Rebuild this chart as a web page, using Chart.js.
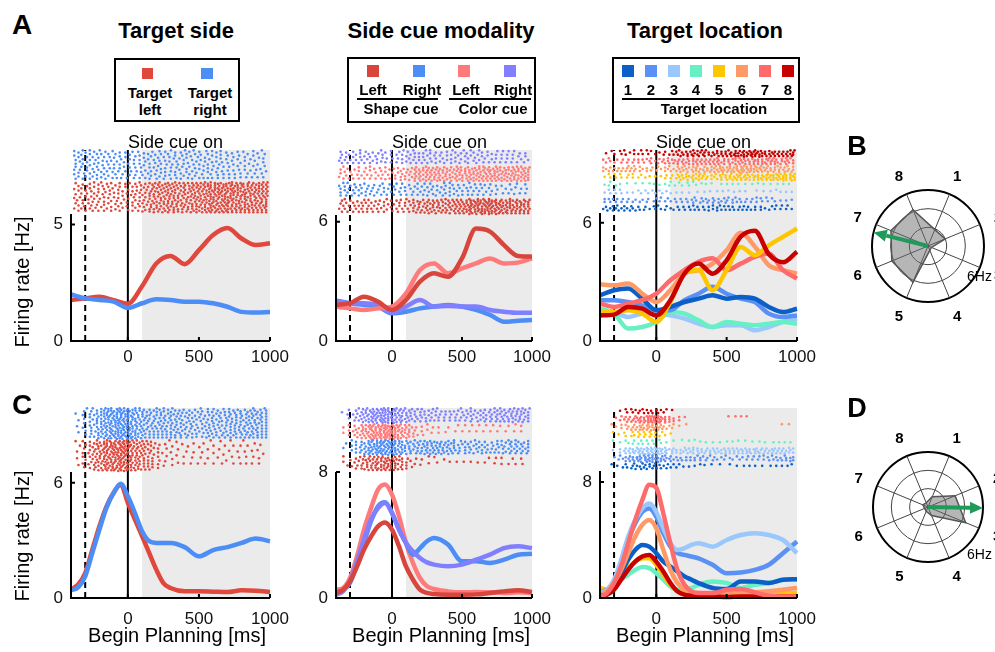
<!DOCTYPE html>
<html>
<head>
<meta charset="utf-8">
<script src="https://cdn.jsdelivr.net/npm/chart.js@4.4.1/dist/chart.umd.min.js"></script>
<style>
  body { margin: 0; width: 995px; height: 652px; overflow: hidden; position: relative; background: #fff;
         font-family: "Liberation Sans", Arial, sans-serif; color: #000; }
  canvas { position: absolute; }
  .t { position: absolute; transform: translate(-50%, -50%); line-height: 1; white-space: nowrap; }
  .tl { position: absolute; transform: translate(0, -50%); line-height: 1; white-space: nowrap; }
  .tv { position: absolute; transform: translate(-50%, -50%) rotate(-90deg); line-height: 1; white-space: nowrap; }
  .box { position: absolute; box-sizing: border-box; border: 2px solid #000; }
  .sq { position: absolute; width: 12px; height: 12px; }
  .rule { position: absolute; height: 2px; background: #000; }
</style>
</head>
<body>
<script>
const FONT = '"Liberation Sans", Arial, sans-serif';

// time grids (ms)
const timesA = [-400, -300, -200, -100, 0, 100, 200, 300, 400, 500, 600, 700, 800, 900, 1000];
const timesC = [-400, -350, -300, -250, -200, -150, -100, -50, 0, 50, 100, 150, 200, 250, 300,
                400, 500, 600, 700, 800, 900, 1000];
const xTicks = [0, 500, 1000];
const fixTime = -300, cueTime = 0, shadeStart = 100;

// row A: side cue on (Hz)
const leftA  = [1.76, 1.83, 1.9, 1.75, 1.6, 2.35, 3.33, 3.65, 3.3, 3.9, 4.55, 4.85, 4.4, 4.12, 4.2];
const rightA = [2.0, 1.83, 1.76, 1.69, 1.42, 1.62, 1.79, 1.76, 1.69, 1.69, 1.62, 1.47, 1.25, 1.22, 1.25];

const shapeLeftA  = [1.81, 1.9, 2.23, 1.98, 1.56, 2.06, 2.98, 3.4, 3.23, 4.15, 5.65, 5.5, 4.82, 4.27, 4.24];
const shapeRightA = [2.03, 1.9, 1.81, 1.73, 1.39, 1.47, 1.64, 1.73, 1.81, 1.73, 1.56, 1.31, 0.97, 1.02, 1.06];
const colorLeftA  = [1.73, 1.64, 1.56, 1.64, 1.73, 2.39, 3.57, 3.9, 3.4, 3.65, 3.9, 4.15, 3.9, 3.94, 4.15];
const colorRightA = [1.98, 1.9, 1.9, 1.81, 1.42, 1.73, 2.06, 1.73, 1.76, 1.73, 1.73, 1.56, 1.47, 1.42, 1.42];

const loc1A = [2.32, 2.58, 2.66, 2.15, 1.56, 1.73, 1.98, 2.15, 2.32, 2.15, 2.24, 2.15, 1.73, 1.47, 1.64];
const loc2A = [2.07, 2.07, 1.98, 1.81, 1.56, 1.56, 2.07, 2.4, 2.75, 2.4, 2.15, 1.98, 1.39, 1.22, 1.3];
const loc3A = [1.56, 1.47, 1.22, 1.39, 1.39, 1.3, 1.14, 0.88, 0.71, 0.8, 0.8, 0.54, 0.71, 0.97, 1.14];
const loc4A = [1.64, 1.39, 0.63, 0.71, 0.97, 1.47, 1.39, 1.05, 0.71, 0.97, 0.88, 0.8, 0.88, 0.97, 0.88];
const loc5A = [1.47, 1.47, 1.56, 1.39, 0.97, 1.98, 3.42, 3.6, 2.58, 3.6, 4.78, 4.36, 4.86, 5.29, 5.71];
const loc6A = [2.88, 2.83, 2.92, 2.41, 1.98, 2.58, 3.42, 3.6, 3.93, 4.61, 5.5, 4.8, 3.85, 3.6, 3.42];
const loc7A = [1.9, 1.73, 1.9, 2.07, 2.41, 3.08, 3.6, 4.02, 4.2, 3.6, 3.93, 4.27, 4.44, 3.6, 3.17];
const loc8A = [1.3, 1.34, 1.73, 1.64, 1.3, 2.07, 3.42, 3.93, 3.42, 4.1, 5.3, 5.6, 4.4, 4.0, 4.53];

// row C: begin planning (Hz)
const leftC  = [0.43, 0.7, 1.3, 2.52, 3.74, 4.78, 5.48, 5.91, 4.96, 4.09, 3.22, 2.35, 1.48, 0.78, 0.52,
                0.35, 0.35, 0.33, 0.31, 0.4, 0.38, 0.31];
const rightC = [0.4, 0.55, 1.13, 2.35, 3.57, 4.7, 5.48, 5.95, 5.3, 4.43, 3.48, 2.96, 2.87, 2.87, 2.87,
                2.65, 2.17, 2.5, 2.65, 2.87, 3.1, 2.96];

const shapeLeftC  = [0.32, 0.53, 1.06, 2.0, 3.07, 3.9, 4.55, 4.8, 4.34, 3.28, 2.0, 1.16, 0.53, 0.32, 0.25,
                     0.21, 0.21, 0.23, 0.32, 0.42, 0.49, 0.38];
const shapeRightC = [0.32, 0.5, 0.95, 2.12, 3.49, 4.87, 5.82, 6.07, 5.4, 4.34, 3.49, 2.75, 3.17, 3.6, 3.81,
                     3.39, 2.33, 2.33, 2.22, 2.43, 2.75, 2.81];
const colorLeftC  = [0.53, 0.63, 1.27, 2.65, 4.34, 5.71, 6.88, 7.2, 6.56, 5.19, 3.49, 2.22, 1.27, 0.74, 0.57,
                     0.42, 0.36, 0.38, 0.36, 0.32, 0.36, 0.32];
const colorRightC = [0.21, 0.42, 1.06, 2.33, 3.7, 4.97, 5.71, 6.03, 5.4, 4.34, 3.49, 2.96, 2.54, 2.26, 2.12,
                     2.01, 2.12, 2.43, 2.75, 3.17, 3.28, 3.17];

const loc1C = [0.34, 0.57, 0.91, 1.71, 2.63, 3.31, 3.66, 3.54, 3.09, 2.51, 2.17, 1.83, 1.49, 1.26, 1.03,
               0.69, 0.62, 1.14, 1.14, 1.03, 1.26, 1.3];
const loc2C = [0.23, 0.46, 1.14, 2.4, 4.0, 5.14, 5.94, 6.17, 5.6, 4.46, 3.54, 3.09, 2.97, 2.86, 2.74,
               2.29, 1.71, 1.76, 1.94, 2.29, 3.09, 3.89];
const loc3C = [0.34, 0.57, 1.26, 2.63, 4.23, 5.37, 6.17, 6.51, 5.94, 4.8, 3.77, 3.31, 3.43, 3.66, 3.77,
               3.54, 4.0, 4.34, 4.46, 4.34, 4.0, 3.09];
const loc4C = [0.57, 0.53, 0.69, 1.26, 1.6, 1.94, 2.13, 2.06, 1.71, 1.26, 0.8, 0.57, 0.57, 0.69, 0.91,
               1.14, 1.03, 0.69, 0.91, 1.03, 1.26, 1.3];
const loc5C = [0.69, 0.57, 0.69, 1.37, 2.06, 2.51, 2.74, 2.74, 2.29, 1.6, 0.91, 0.46, 0.27, 0.23, 0.23,
               0.23, 0.23, 0.25, 0.27, 0.3, 0.32, 0.34];
const loc6C = [0.23, 0.46, 1.03, 1.94, 3.09, 4.23, 5.03, 5.37, 4.8, 3.31, 1.94, 1.03, 0.57, 0.39, 0.34,
               0.3, 0.34, 0.34, 0.39, 0.46, 0.57, 0.69];
const loc7C = [0.11, 0.34, 1.03, 2.17, 3.77, 5.37, 6.74, 7.8, 7.6, 5.83, 3.77, 1.94, 0.91, 0.46, 0.34,
               0.34, 0.57, 0.62, 0.39, 0.16, 0.11, 0.11];
const loc8C = [0.16, 0.23, 0.57, 1.26, 1.94, 2.51, 2.86, 2.97, 2.51, 1.83, 1.03, 0.46, 0.23, 0.16, 0.11,
               0.11, 0.07, 0.11, 0.11, 0.11, 0.11, 0.11];

// polar tuning (Hz per target location) and preferred-direction vectors [deg, Hz]
const dirLabels = ['1', '2', '3', '4', '5', '6', '7', '8'];
const tuningB = [1.9, 2.0, 0.4, 0.5, 4.2, 4.2, 4.3, 4.2];
const tuningD = [1.2, 3.2, 4.45, 1.0, 0.5, 0.4, 0.6, 0.5];
const vecB = [284, 6];
const vecD = [91, 6];

// colours
const cRed = '#e0483e', cBlue = '#4d8df6';
const cShapeL = '#d8453c', cShapeR = '#4d8df6', cColorL = '#ff7b7b', cColorR = '#8080ff';
const locColors = ['#0b5fc6', '#5b91f5', '#9ac8fd', '#66f0c4', '#ffc600', '#ff9a66', '#ff6a6a', '#c80000'];

// raster: spike density follows the firing rate of each condition
const spikeGain = 0.024, spikeFloor = 0.016;

function nearestIdx(times, t) {
  let b = 0;
  for (let i = 1; i < times.length; i++) if (Math.abs(times[i] - t) < Math.abs(times[b] - t)) b = i;
  return b;
}

// error-diffusion halftone of the rate, one row per trial line
function rasterDots(times, rates, lo, hi, rows) {
  const cols = 140, cw = 10;
  const grid = [];
  for (let r = 0; r < rows; r++) {
    const row = [];
    for (let c = 0; c < cols; c++) {
      const rate = rates[nearestIdx(times, -400 + (c + 0.5) * cw)];
      row.push(Math.min(0.3, spikeFloor + rate * spikeGain));
    }
    grid.push(row);
  }
  const pts = [], rh = (hi - lo) / rows;
  for (let r = 0; r < rows; r++) {
    const dir = r % 2 ? -1 : 1;
    for (let k = 0; k < cols; k++) {
      const c = dir > 0 ? k : cols - 1 - k;
      const v = grid[r][c];
      const on = v >= 0.5 ? 1 : 0;
      const e = v - on;
      if (on) pts.push({ x: -400 + (c + 0.75 + e) * cw, y: lo + (r + 0.5) * rh });
      if (c + dir >= 0 && c + dir < cols) grid[r][c + dir] += e * 7 / 16;
      if (r + 1 < rows) {
        if (c - dir >= 0 && c - dir < cols) grid[r + 1][c - dir] += e * 3 / 16;
        grid[r + 1][c] += e * 5 / 16;
        if (c + dir >= 0 && c + dir < cols) grid[r + 1][c + dir] += e / 16;
      }
    }
  }
  return pts;
}

function makePanel(p) {
  const plotW = p.right - p.left, plotH = p.bottom - p.top;
  const padTop = 20, padRight = 36, yw = 45, xh = 30;
  const cv = document.createElement('canvas');
  cv.width = plotW + yw + padRight; cv.height = plotH + padTop + xh;
  cv.style.left = (p.left - yw) + 'px';
  cv.style.top = (p.top - padTop) + 'px';
  document.body.appendChild(cv);

  const datasets = [];
  const bandH = (p.ymax - p.rasterLo) / p.series.length;
  p.series.forEach((s, i) => {
    const lo = p.rasterLo + i * bandH;
    const rows = Math.max(3, Math.round(bandH / p.ymax * plotH / 0.75));
    datasets.push({
      data: rasterDots(p.times, s.values, lo, lo + bandH, rows),
      backgroundColor: s.color, pointBackgroundColor: s.color,
      pointRadius: 1.3, pointBorderWidth: 0, order: 1000, clip: 4
    });
  });
  p.series.forEach(s => {
    datasets.push({
      data: p.times.map((t, i) => ({ x: t, y: s.values[i] })),
      showLine: true, borderColor: s.color, borderWidth: 4.5, pointRadius: 0,
      cubicInterpolationMode: 'monotone', order: s.layer, clip: 6
    });
  });

  const extras = {
    id: 'extras',
    beforeDatasetsDraw(chart) {
      const { ctx } = chart, x = chart.scales.x, y = chart.scales.y;
      const y0 = y.getPixelForValue(0), yTop = y.getPixelForValue(p.ymax);
      ctx.save();
      ctx.fillStyle = '#ebebeb';
      ctx.fillRect(x.getPixelForValue(shadeStart), yTop,
                   x.getPixelForValue(1000) - x.getPixelForValue(shadeStart), y0 - yTop);
      ctx.strokeStyle = '#000';
      ctx.lineWidth = 2;
      ctx.beginPath();
      ctx.moveTo(x.getPixelForValue(cueTime), y0);
      ctx.lineTo(x.getPixelForValue(cueTime), yTop);
      ctx.stroke();
      ctx.setLineDash([6, 4]);
      ctx.beginPath();
      ctx.moveTo(x.getPixelForValue(fixTime), y0);
      ctx.lineTo(x.getPixelForValue(fixTime), yTop);
      ctx.stroke();
      ctx.restore();
    },
    afterDatasetsDraw(chart) {
      const { ctx } = chart, x = chart.scales.x, y = chart.scales.y;
      const y0 = y.getPixelForValue(0), xl = x.getPixelForValue(-400);
      ctx.save();
      ctx.strokeStyle = '#000';
      ctx.lineWidth = 2;
      ctx.beginPath();
      ctx.moveTo(xl, y.getPixelForValue(p.rasterLo));
      ctx.lineTo(xl, y0);
      ctx.lineTo(x.getPixelForValue(1000), y0);
      xTicks.forEach(v => {
        ctx.moveTo(x.getPixelForValue(v), y0);
        ctx.lineTo(x.getPixelForValue(v), y0 - 4);
      });
      ctx.moveTo(xl, y.getPixelForValue(p.yTick));
      ctx.lineTo(xl + 4, y.getPixelForValue(p.yTick));
      ctx.stroke();
      ctx.restore();
    }
  };

  new Chart(cv, {
    type: 'scatter',
    data: { datasets },
    options: {
      responsive: false, animation: false, events: [],
      layout: { padding: { left: 0, right: padRight, top: padTop, bottom: 0 } },
      plugins: { legend: { display: false }, tooltip: { enabled: false } },
      scales: {
        x: {
          type: 'linear', min: -400, max: 1000,
          afterBuildTicks: s => { s.ticks = xTicks.map(v => ({ value: v })); },
          afterFit: s => { s.height = xh; },
          grid: { display: false, drawTicks: false }, border: { display: false },
          ticks: { color: '#111', font: { size: 17, family: FONT }, padding: p.tickPad, maxRotation: 0,
                   autoSkip: false, callback: v => String(v) }
        },
        y: {
          min: 0, max: p.ymax,
          afterBuildTicks: s => { s.ticks = [0, p.yTick].map(v => ({ value: v })); },
          afterFit: s => { s.width = yw; },
          grid: { display: false, drawTicks: false }, border: { display: false },
          ticks: { color: '#111', font: { size: 17, family: FONT }, padding: 8, callback: v => String(v) }
        }
      }
    },
    plugins: [extras]
  });
}

const colA = { left: 71, right: 270 }, colB = { left: 336, right: 532 }, colC = { left: 600, right: 797 };
const rowA = { top: 150, bottom: 341, times: timesA, tickPad: 6 };
const rowC = { top: 408, bottom: 598, times: timesC, tickPad: 11 };

makePanel(Object.assign({}, colA, rowA, { ymax: 8.2, yTick: 5, rasterLo: 5.45, series: [
  { values: leftA, color: cRed, layer: 2 }, { values: rightA, color: cBlue, layer: 1 }] }));
makePanel(Object.assign({}, colB, rowA, { ymax: 9.6, yTick: 6, rasterLo: 6.33, series: [
  { values: shapeLeftA, color: cShapeL, layer: 1 }, { values: shapeRightA, color: cShapeR, layer: 4 },
  { values: colorLeftA, color: cColorL, layer: 2 }, { values: colorRightA, color: cColorR, layer: 3 }] }));
makePanel(Object.assign({}, colC, rowA, { ymax: 9.7, yTick: 6, rasterLo: 6.5, series: [
  { values: loc1A, color: locColors[0], layer: 5 }, { values: loc2A, color: locColors[1], layer: 6 },
  { values: loc3A, color: locColors[2], layer: 8 }, { values: loc4A, color: locColors[3], layer: 7 },
  { values: loc5A, color: locColors[4], layer: 2 }, { values: loc6A, color: locColors[5], layer: 4 },
  { values: loc7A, color: locColors[6], layer: 3 }, { values: loc8A, color: locColors[7], layer: 1 }] }));

makePanel(Object.assign({}, colA, rowC, { ymax: 9.9, yTick: 6, rasterLo: 6.56, series: [
  { values: leftC, color: cRed, layer: 2 }, { values: rightC, color: cBlue, layer: 1 }] }));
makePanel(Object.assign({}, colB, rowC, { ymax: 12.06, yTick: 8, rasterLo: 8.0, series: [
  { values: shapeLeftC, color: cShapeL, layer: 1 }, { values: shapeRightC, color: cShapeR, layer: 3 },
  { values: colorLeftC, color: cColorL, layer: 4 }, { values: colorRightC, color: cColorR, layer: 2 }] }));
makePanel(Object.assign({}, colC, rowC, { ymax: 13.1, yTick: 8, rasterLo: 8.76, series: [
  { values: loc1C, color: locColors[0], layer: 6 }, { values: loc2C, color: locColors[1], layer: 5 },
  { values: loc3C, color: locColors[2], layer: 4 }, { values: loc4C, color: locColors[3], layer: 8 },
  { values: loc5C, color: locColors[4], layer: 7 }, { values: loc6C, color: locColors[5], layer: 3 },
  { values: loc7C, color: locColors[6], layer: 1 }, { values: loc8C, color: locColors[7], layer: 2 }] }));

// polar tuning plots
function makePolar(values, vec, left, top, pad) {
  const cv = document.createElement('canvas');
  cv.width = 180; cv.height = 180;
  cv.style.left = left + 'px'; cv.style.top = top + 'px';
  document.body.appendChild(cv);
  const extras = {
    id: 'polarExtras',
    afterDraw(chart) {
      const { ctx } = chart, s = chart.scales.r;
      ctx.save();
      ctx.fillStyle = '#000';
      ctx.font = 'bold 15px ' + FONT;
      ctx.textAlign = 'center';
      ctx.textBaseline = 'middle';
      chart.data.labels.forEach((lab, i) => {
        const pt = s.getPointPosition(i, s.drawingArea + 20);
        ctx.fillText(lab, pt.x, pt.y + 1);
      });
      const a = vec[0] * Math.PI / 180, len = s.getDistanceFromCenterForValue(vec[1]);
      const ux = Math.sin(a), uy = -Math.cos(a);
      const tx = s.xCenter + ux * len, ty = s.yCenter + uy * len;
      const hl = 13, hw = 6;
      ctx.strokeStyle = '#1f9a5b'; ctx.fillStyle = '#1f9a5b';
      ctx.lineWidth = 4;
      ctx.beginPath();
      ctx.moveTo(s.xCenter, s.yCenter);
      ctx.lineTo(tx - ux * hl, ty - uy * hl);
      ctx.stroke();
      ctx.beginPath();
      ctx.moveTo(tx, ty);
      ctx.lineTo(tx - ux * hl - uy * hw, ty - uy * hl + ux * hw);
      ctx.lineTo(tx - ux * hl + uy * hw, ty - uy * hl - ux * hw);
      ctx.closePath();
      ctx.fill();
      ctx.restore();
    }
  };
  new Chart(cv, {
    type: 'radar',
    data: { labels: dirLabels, datasets: [{
      data: values, backgroundColor: 'rgba(110,110,110,0.5)', borderColor: '#555',
      borderWidth: 1.5, pointRadius: 0, fill: true }] },
    options: {
      responsive: false, animation: false, events: [],
      layout: { padding: pad },
      plugins: { legend: { display: false }, tooltip: { enabled: false } },
      scales: { r: {
        min: 0, max: 6, startAngle: 22.5,
        ticks: { display: false, stepSize: 2 },
        pointLabels: { display: false },
        grid: { circular: true,
                color: c => (c.tick && c.tick.value === 6 ? '#000' : '#444'),
                lineWidth: c => (c.tick && c.tick.value === 6 ? 2 : 1) },
        angleLines: { color: '#444', lineWidth: 1 }
      } }
    },
    plugins: [extras]
  });
}
makePolar(tuningB, vecB, 838, 156, 34);
makePolar(tuningD, vecD, 838, 417, 35);

// text
function txt(s, x, y, size, bold, cls) {
  const d = document.createElement('div');
  d.className = cls || 't';
  d.textContent = s;
  d.style.left = x + 'px';
  d.style.top = y + 'px';
  d.style.fontSize = size + 'px';
  if (bold) d.style.fontWeight = 'bold';
  document.body.appendChild(d);
  return d;
}
function rect(cls, x, y, w, h, bg) {
  const d = document.createElement('div');
  d.className = cls;
  d.style.left = x + 'px'; d.style.top = y + 'px';
  if (w != null) d.style.width = w + 'px';
  if (h != null) d.style.height = h + 'px';
  if (bg) d.style.background = bg;
  document.body.appendChild(d);
}

txt('A', 22, 25, 28, true);
txt('B', 857, 146, 27, true);
txt('C', 22, 405, 28, true);
txt('D', 857, 408, 27, true);
txt('Target side', 176, 31, 22, true);
txt('Side cue modality', 441, 31, 22, true);
txt('Target location', 705, 31, 22, true);
[128, 392, 656].forEach(x => txt('Side cue on', x, 142, 18, false, 'tl'));
txt('Firing rate [Hz]', 22, 282, 20, false, 'tv');
txt('Firing rate [Hz]', 22, 536, 20, false, 'tv');
[177, 441, 705].forEach(x => txt('Begin Planning [ms]', x, 635, 20));
txt('6Hz', 967, 276, 14, false, 'tl');
txt('6Hz', 967, 554, 14, false, 'tl');

// legend: target side
rect('box', 114, 58, 126, 64);
rect('sq', 142, 68, 11, 11, cRed);
rect('sq', 201, 68, 12, 11, cBlue);
txt('Target', 150, 92, 15, true); txt('left', 150, 109, 15, true);
txt('Target', 210, 92, 15, true); txt('right', 210, 109, 15, true);

// legend: side cue modality
rect('box', 347, 57, 189, 66);
[[367, cShapeL], [413, cShapeR], [458, cColorL], [504, cColorR]].forEach(([x, c]) => rect('sq', x, 65, 12, 12, c));
txt('Left', 373, 89, 15, true); txt('Right', 422, 89, 15, true);
txt('Left', 466, 89, 15, true); txt('Right', 513, 89, 15, true);
rect('rule', 357, 98, 81, 2); rect('rule', 449, 98, 82, 2);
txt('Shape cue', 401, 108, 15, true); txt('Color cue', 493, 108, 15, true);

// legend: target location
rect('box', 612, 57, 188, 66);
[622, 645, 668, 690, 713, 736, 759, 782].forEach((x, i) => {
  rect('sq', x, 65, 12, 12, locColors[i]);
  txt(dirLabels[i], x + 6, 89, 15, true);
});
rect('rule', 622, 98, 172, 2);
txt('Target location', 714, 108, 15, true);
</script>
</body>
</html>
